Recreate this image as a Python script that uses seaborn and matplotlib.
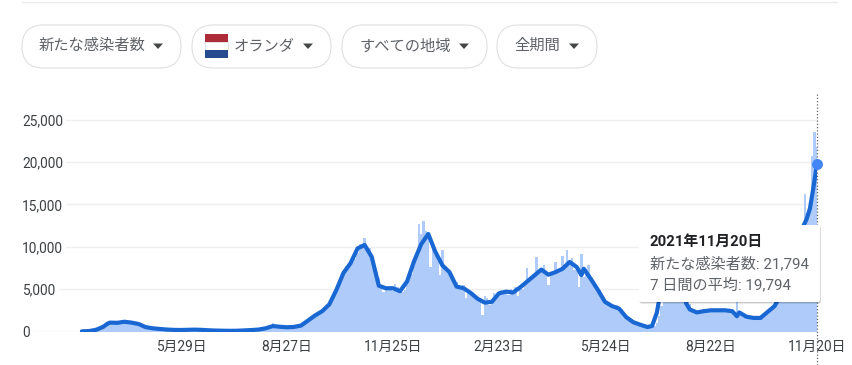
import numpy as np
import pandas as pd
import matplotlib.pyplot as plt
import seaborn as sns
from matplotlib.patches import FancyBboxPatch, Polygon, Rectangle
from matplotlib import patheffects

# 日別の感染者数 (2日おき, 2020-02-05 を 0 日目とする)
daily_cases = [
    10, 20, 30, 60, 90, 140, 200, 300, 450, 600,
    800, 1000, 1100, 1050, 1020, 1000, 1050, 1150, 1100, 1200,
    1150, 1050, 1000, 980, 900, 850, 750, 650, 550, 500,
    420, 380, 350, 320, 300, 260, 240, 220, 200, 190,
    180, 170, 190, 200, 180, 200, 230, 190, 210, 240,
    200, 170, 150, 140, 130, 120, 110, 100, 100, 90,
    90, 85, 80, 85, 90, 90, 100, 120, 130, 150,
    170, 180, 200, 240, 250, 300, 380, 420, 500, 560,
    600, 1050, 700, 580, 550, 520, 500, 480, 480, 470,
    540, 570, 650, 750, 900, 1000, 1150, 1300, 1500, 1750,
    1900, 2100, 2400, 2700, 3000, 3300, 3700, 4100, 4700, 5300,
    6000, 7000, 7700, 8000, 8300, 8200, 8600, 9200, 10300, 10000,
    11000, 10000, 9800, 8800, 8000, 7000, 6300, 5300, 4600, 5400,
    4900, 5400, 4800, 5600, 5200, 5000, 4600, 4900, 6000, 6600,
    6800, 7900, 9300, 12700, 11500, 13000, 11800, 11200, 7600, 9800,
    9000, 8300, 6700, 9600, 7700, 7300, 7000, 6800, 5500, 5800,
    5200, 5000, 5500, 4000, 4900, 4700, 4500, 4100, 3600, 3900,
    1900, 4200, 3900, 3100, 3700, 4500, 4300, 4600, 4900, 4500,
    4800, 4300, 5000, 4700, 5300, 4200, 5300, 5000, 6000, 7500,
    5900, 6600, 6500, 8800, 6900, 7300, 7850, 6800, 5500, 6800,
    7100, 8250, 6900, 7500, 8850, 7900, 9600, 8100, 8700, 7200,
    7100, 5300, 9150, 6400, 7400, 7900, 6200, 5700, 5200, 4800,
    4300, 4000, 3500, 3100, 3300, 3000, 2800, 3100, 2800, 2600,
    2200, 1900, 1700, 1500, 1200, 1100, 1000, 900, 800, 750,
    650, 600, 620, 700, 1000, 1800, 3000, 5200, 7500, 9000,
    10500, 9800, 9500, 8500, 7000, 6000, 5000, 4000, 3200, 2700,
    2300, 2200, 2300, 2250, 2400, 2350, 2500, 2400, 2550, 2450,
    2500, 2450, 2500, 2600, 2450, 2300, 2200, 1800, 3500, 2100,
    1900, 1800, 1700, 1650, 1600, 1550, 1600, 1600, 1550, 1650,
    1800, 2100, 2400, 2800, 3300, 3700, 4100, 4600, 5200, 5800,
    6500, 7200, 8000, 9000, 9800, 10800, 12000, 16200, 14000, 14500,
    20650, 23500, 21794,
]

# 7日間の平均
avg_days = [0, 6, 12, 18, 22, 24, 30, 36, 42, 48, 54, 60, 66, 72, 78, 84, 90, 96,
            102, 108, 114, 120, 126, 132, 138, 144, 150, 156, 162, 168, 174, 180,
            186, 192, 198, 204, 210, 216, 222, 228, 234, 240, 246, 252, 258, 264,
            270, 276, 282, 288, 294, 300, 306, 312, 318, 324, 330, 336, 342, 348,
            354, 360, 366, 372, 378, 384, 390, 396, 402, 408, 414, 420, 424, 426,
            432, 438, 444, 450, 456, 462, 468, 474, 480, 484, 488, 491, 494, 497,
            500, 504, 508, 511, 513, 516, 522, 528, 534, 540, 546, 552, 556, 558,
            564, 570, 576, 582, 588, 594, 600, 606, 612, 615, 618, 621, 624]
avg_cases = [20, 50, 200, 550, 950, 1050, 1020, 1150, 1050, 890, 520, 380, 300, 230,
             190, 180, 200, 220, 190, 140, 110, 90, 80, 90, 130, 170, 230, 380, 640,
             560, 500, 540, 700, 1300, 1900, 2400, 3200, 4900, 6900, 8050, 9800,
             10200, 8800, 5400, 5100, 5100, 4750, 5900, 8300, 10300, 11500, 9400,
             7800, 7000, 5300, 5100, 4550, 3850, 3400, 3500, 4500, 4700, 4600, 5200,
             5900, 6600, 7300, 6700, 7000, 7400, 8200, 7600, 6650, 7400, 6200, 4900,
             3500, 3000, 2700, 1700, 1100, 800, 530, 650, 2200, 4500, 7000, 9000,
             9800, 9400, 6800, 4400, 3300, 2600, 2250, 2400, 2500, 2500, 2500, 2400,
             1800, 2250, 1750, 1600, 1600, 2300, 3000, 4500, 6500, 9800, 12300, 13200,
             14500, 17000, 19794]

tick_days = [84, 174, 264, 354, 444, 534, 624]
tick_labels = ["5月29日", "8月27日", "11月25日", "2月23日", "5月24日", "8月22日", "11月20日"]
y_ticks = [0, 5000, 10000, 15000, 20000, 25000]

menu_labels = ["新たな感染者数", "オランダ", "すべての地域", "全期間"]
tooltip_date = "2021年11月20日"
tooltip_new = "新たな感染者数: 21,794"
tooltip_avg = "7 日間の平均: 19,794"

sns.set_theme(style="white")
plt.rcParams['font.family'] = ['Roboto', 'Noto Sans CJK JP', 'DejaVu Sans']

W, H = 853, 365
fig = plt.figure(figsize=(W / 100, H / 100), dpi=100)

# グラフ本体
left, right, top, bottom = 22, 817, 92, 331.5
ax = fig.add_axes([left / W, 1 - bottom / H, (right - left) / W, (bottom - top) / H])

df = pd.DataFrame({"day": np.arange(len(daily_cases)) * 2, "cases": daily_cases})
sns.barplot(data=df, x="day", y="cases", native_scale=True, width=1, color="#aecbfa",
            saturation=1, errorbar=None, linewidth=0, antialiased=False, ax=ax)
sns.lineplot(x=avg_days, y=avg_cases, color="#1967d2", linewidth=3.0, ax=ax, zorder=4,
             solid_joinstyle="round", solid_capstyle="round", estimator=None)
sns.scatterplot(x=avg_days[-1:], y=avg_cases[-1:], color="#4285f4", s=62, linewidth=0,
                ax=ax, zorder=5, clip_on=False)
ax.axvline(avg_days[-1], ymin=-0.14, ymax=1, color="#5f6368", lw=0.9, ls=(0, (1, 1.6)),
           clip_on=False, zorder=3)

ax.set_xlim(624 - (right - left) / 1.178, 624)
ax.set_ylim(0, (bottom - top) / 0.00848)
ax.set_xlabel("")
ax.set_ylabel("")
ax.set_xticks(tick_days)
ax.set_xticklabels(tick_labels, fontsize=9.9, color="#3c4043")
ax.set_yticks(y_ticks)
ax.set_yticklabels([f"{v:,}" for v in y_ticks], fontsize=9.9, color="#3c4043", ha="left",
                   bbox=dict(facecolor="white", edgecolor="none", pad=2.5))
ax.tick_params(axis="y", length=0, pad=0)
ax.tick_params(axis="x", length=3, width=0.8, color="#ebebeb", pad=3)
ax.grid(axis="y", color="#efefef", lw=1)
ax.grid(axis="x", visible=False)
ax.set_axisbelow(True)
sns.despine(ax=ax, left=True, top=True, right=True, bottom=True)

# 上のメニューとツールチップはピクセル座標で置く
ui = fig.add_axes([0, 0, 1, 1], zorder=10)
ui.set_xlim(0, W)
ui.set_ylim(H, 0)
ui.axis("off")
ui.patch.set_alpha(0)

ui.plot([22, 837], [1.5, 1.5], color="#ebebeb", lw=1)

pills = [(22, 181, 39, 158), (192, 331, 234, 308), (342, 487, 360, 464), (497, 597, 514, 574)]
for (x0, x1, tx, arrow), label in zip(pills, menu_labels):
    ui.add_patch(FancyBboxPatch((x0 + 21.5, 25 + 21.5), x1 - x0 - 43, 0,
                                boxstyle="round,pad=21.5,rounding_size=21.5",
                                fc="white", ec="#e0e0e0", lw=0.8))
    ui.text(tx, 46, label, fontsize=11, color="#5f6368", va="center", ha="left")
    ui.add_patch(Polygon([(arrow - 5, 43.5), (arrow + 5, 43.5), (arrow, 49)], fc="#444746", ec="none"))

# オランダの国旗
ui.add_patch(Rectangle((205, 34), 23, 8, fc="#ae2b38", ec="none"))
ui.add_patch(Rectangle((205, 42), 23, 8, fc="#ffffff", ec="#dddddd", lw=0.6))
ui.add_patch(Rectangle((205, 50), 23, 8, fc="#274b8f", ec="none"))

tip = FancyBboxPatch((641, 227), 177, 73, boxstyle="round,pad=2,rounding_size=2",
                     fc="white", ec="none", zorder=6)
tip.set_path_effects([patheffects.SimplePatchShadow(offset=(0.5, -1), shadow_rgbFace="#000000", alpha=0.22),
                      patheffects.Normal()])
ui.add_patch(tip)
ui.text(650, 242, tooltip_date, fontsize=10.7, fontweight="bold", color="#202124", va="center", zorder=7)
ui.text(650, 264, tooltip_new, fontsize=10.9, color="#5f6368", va="center", zorder=7)
ui.text(650, 285, tooltip_avg, fontsize=10.9, color="#5f6368", va="center", zorder=7)

fig.savefig("out.png", dpi=100)
